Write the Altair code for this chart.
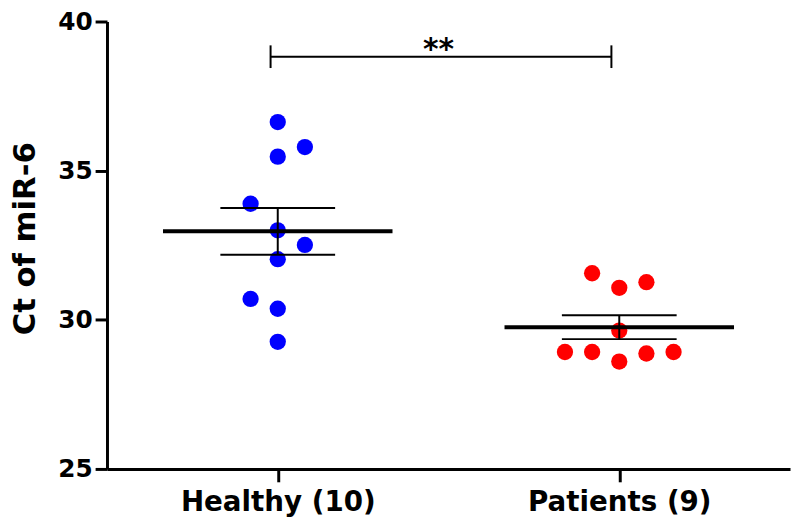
import altair as alt
import pandas as pd
import numpy as np

groups = ["Healthy (10)", "Patients (9)"]
colors = ["#0000FF", "#FF0000"]

healthy = [36.63, 35.47, 35.79, 33.89, 33.00, 32.51, 32.03, 30.70, 30.37, 29.26]
healthy_slot = [0, 0, 1, -1, 0, 1, 0, -1, 0, 0]
patients = [31.56, 31.07, 31.26, 29.64, 28.92, 28.92, 28.60, 28.87, 28.92]
patients_slot = [-1, 0, 1, 0, -2, -1, 0, 1, 2]

y_ticks = [25, 30, 35, 40]
sig_label = "**"
sig_y = 38.82
sig_tick = 0.38

SLOT_W = 0.0795
MEAN_HALF = 0.336
SEM_HALF = 0.168
FONT = "DejaVu Sans"

rows = []
for gi, (vals, slots) in enumerate([(healthy, healthy_slot), (patients, patients_slot)]):
    for v, s in zip(vals, slots):
        rows.append({"g": gi, "group": groups[gi], "value": v, "xp": gi + s * SLOT_W})
pts = pd.DataFrame(rows)

stats = []
for gi, vals in enumerate([healthy, patients]):
    a = np.array(vals)
    m = a.mean()
    se = a.std(ddof=1) / np.sqrt(len(a))
    stats.append({"g": gi, "mean": m, "lo": m - se, "hi": m + se,
                  "mx1": gi - MEAN_HALF, "mx2": gi + MEAN_HALF,
                  "sx1": gi - SEM_HALF, "sx2": gi + SEM_HALF})
st = pd.DataFrame(stats)

label_expr = "datum.value == 0 ? '%s' : '%s'" % (groups[0], groups[1])

xscale = alt.Scale(domain=[-0.5, 1.5], nice=False, zero=False)
yscale = alt.Scale(domain=[25, 40], nice=False, zero=False)

xax = alt.Axis(values=[0, 1], labelExpr=label_expr, title=None, grid=False,
               tickSize=13, labelPadding=7, labelFontSize=28, labelLimit=0)
yax = alt.Axis(values=y_ticks, title="Ct of miR-6", grid=False, tickSize=12,
               labelPadding=3, labelFontSize=25, labelLimit=0,
               titleFontSize=31, titleX=-66, titleY=219)

points = alt.Chart(pts).mark_circle(size=270, opacity=1).encode(
    x=alt.X("xp:Q", scale=xscale, axis=xax),
    y=alt.Y("value:Q", scale=yscale, axis=yax),
    color=alt.Color("group:N", scale=alt.Scale(domain=groups, range=colors), legend=None),
)

mean_rule = alt.Chart(st).mark_rule(color="black", strokeWidth=4).encode(
    x="mx1:Q", x2="mx2:Q", y="mean:Q")
sem_hi = alt.Chart(st).mark_rule(color="black", strokeWidth=2).encode(
    x="sx1:Q", x2="sx2:Q", y="hi:Q")
sem_lo = alt.Chart(st).mark_rule(color="black", strokeWidth=2).encode(
    x="sx1:Q", x2="sx2:Q", y="lo:Q")
sem_v = alt.Chart(st).mark_rule(color="black", strokeWidth=2).encode(
    x="g:Q", y="lo:Q", y2="hi:Q")

br = pd.DataFrame({"x1": [-0.021], "x2": [0.977], "y": [sig_y],
                   "ylo": [sig_y - sig_tick], "yhi": [sig_y + sig_tick],
                   "xm": [(-0.021 + 0.977) / 2 - 0.007], "lab": [sig_label]})
br_h = alt.Chart(br).mark_rule(color="black", strokeWidth=2).encode(
    x="x1:Q", x2="x2:Q", y="y:Q")
br_l = alt.Chart(br).mark_rule(color="black", strokeWidth=2).encode(
    x="x1:Q", y="ylo:Q", y2="yhi:Q")
br_r = alt.Chart(br).mark_rule(color="black", strokeWidth=2).encode(
    x="x2:Q", y="ylo:Q", y2="yhi:Q")
br_t = alt.Chart(br).mark_text(font=FONT, fontWeight="bold", fontSize=30,
                               baseline="alphabetic", dy=2, color="black").encode(
    x="xm:Q", y="y:Q", text="lab:N")

chart = alt.layer(points, mean_rule, sem_hi, sem_lo, sem_v, br_h, br_l, br_r, br_t).properties(
    width=690, height=452,
    autosize=alt.AutoSizeParams(type="none"),
    padding={"left": 100, "top": 11, "right": 2, "bottom": 54},
).configure_view(stroke=None).configure_axis(
    domainColor="black", domainWidth=3, tickColor="black", tickWidth=3,
    labelColor="black", titleColor="black",
    labelFont=FONT, titleFont=FONT,
    labelFontWeight="bold", titleFontWeight="bold",
)

chart.save("out.html", embed_options={"renderer": "svg", "actions": False})
